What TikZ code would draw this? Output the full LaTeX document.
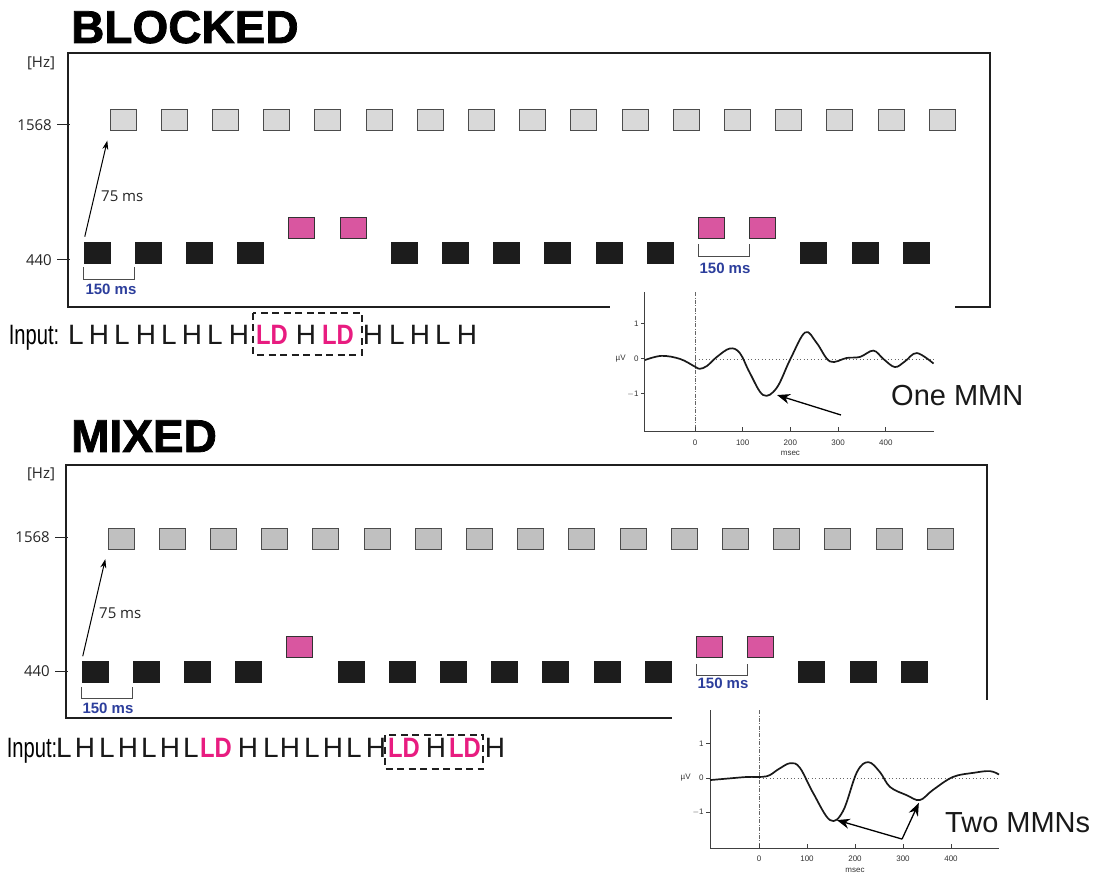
\documentclass[tikz,border=0pt]{standalone}
\usepackage{fontspec}
\usetikzlibrary{arrows.meta,positioning}
\setmainfont{Liberation Sans}
\newfontfamily\headfont[FakeBold=1.6]{Liberation Sans Bold}
\newfontfamily\narrowfont[FakeStretch=0.72]{Liberation Sans}
\newfontfamily\devfont[FakeStretch=0.85]{Liberation Sans Bold}
\newfontfamily\hzfont{Open Sans}

\definecolor{ldpink}{RGB}{232,28,128}
\definecolor{devfill}{RGB}{217,86,160}
\definecolor{hifillA}{RGB}{217,217,217}
\definecolor{hifillB}{RGB}{192,192,192}
\definecolor{lofill}{RGB}{28,28,28}
\definecolor{msblue}{RGB}{44,62,156}

\tikzset{
  tone/.style={minimum width=26pt, minimum height=21pt, inner sep=0pt, line width=0.8pt},
  hitone/.style={tone, draw=black!70, fill=hifillA},
  hitoneB/.style={tone, draw=black!70, fill=hifillB},
  lotone/.style={tone, draw=lofill, fill=lofill},
  devtone/.style={tone, draw=black!80, fill=devfill, yshift=25pt},
  frame/.style={line width=2.6pt, draw=black!88},
  hzlbl/.style={font=\hzfont\fontsize{15}{15}\selectfont, text=black!85, inner sep=0pt},
  hztick/.style={line width=1pt, draw=black!85},
  title/.style={font=\headfont\fontsize{46}{46}\selectfont, inner sep=0pt, anchor=base west},
  delay/.style={-{Stealth[length=9pt,width=6pt]}, line width=1pt, shorten <=5pt, shorten >=10pt},
  bracket/.style={line width=0.9pt, draw=black!70},
  msl/.style={font=\bfseries\fontsize{15}{15}\selectfont, text=msblue, inner sep=0pt},
  inlbl/.style={font=\narrowfont\fontsize{28}{28}\selectfont, inner sep=0pt, anchor=base},
  seq/.style={font=\fontsize{28}{28}\selectfont, text=black!90, inner sep=0pt, anchor=base},
  dev/.style={font=\devfont\fontsize{28}{28}\selectfont, text=ldpink, inner sep=0pt, anchor=base},
  dashbox/.style={line width=2.4pt, draw=black!88, dash pattern=on 7pt off 4.5pt},
  erpaxis/.style={line width=1pt, draw=black!75},
  zeroline/.style={line width=0.7pt, draw=black!60, dash pattern=on 1pt off 2.5pt},
  onsetline/.style={line width=0.6pt, draw=black!60, dash pattern=on 4pt off 1.5pt on 0.8pt off 1.5pt},
  erp/.style={line width=1.7pt, draw=black!90},
  ticklbl/.style={font=\fontsize{8}{8}\selectfont, text=black!80, inner sep=0pt},
  mmn/.style={-{Stealth[length=13pt,width=10pt]}, line width=1.3pt},
  mmnlbl/.style={text=black!90, inner sep=0pt, anchor=base west}
}

\begin{document}
\begin{tikzpicture}[x=1pt, y=-1pt]
  \useasboundingbox[fill=white] (0,0) rectangle (1098,874);

  %% ---------------- BLOCKED ----------------
  \node[title] (headA) at (71,43) {BLOCKED};
  \draw[frame] (68,53) rectangle (990,307);

  \node[hzlbl] (hzA) at (41,63) {[Hz]};
  \node[hzlbl, anchor=east] (fhiA) at (52,125) {1568};
  \node[hzlbl, anchor=east] (floA) at (52,260) {440};
  \draw[hztick] (57,125) -- (70,125);
  \draw[hztick] (57,260) -- (70,260);

  % high tones, 150 ms apart
  \foreach \k in {0,...,16}
    \node[hitone] (hA\k) at ({123+51.2*\k},120) {};
  % low tones and deviants
  \foreach \t [count=\k from 0] in {lotone,lotone,lotone,lotone,devtone,devtone,
      lotone,lotone,lotone,lotone,lotone,lotone,devtone,devtone,lotone,lotone,lotone}
    \node[\t] (lA\k) at ({97+51.2*\k},252.5) {};

  \draw[delay] (lA0.north west) -- (hA0.south west);
  \node[hzlbl, anchor=west] (dA) at (101,196) {75 ms};

  \draw[bracket] ([yshift=-4pt]lA0.south west) -- ++(0,12) -| ([yshift=-4pt]lA1.south west);
  \node[msl] (isiA) at (111,289) {150 ms};
  \draw[bracket] ([yshift=-6pt]lA12.south west) -- ++(0,12) -| ([yshift=-6pt]lA13.south west);
  \node[msl] (isiA2) at (725,268) {150 ms};

  % input sequence
  \node[inlbl] (inA) at (34,345) {Input:};
  \foreach \x/\s/\st [count=\i] in {76/L/seq,99/H/seq,122/L/seq,146/H/seq,169/L/seq,
      192/H/seq,215/L/seq,239/H/seq,272/LD/dev,306/H/seq,338/LD/dev,373/H/seq,
      397/L/seq,420/H/seq,443/L/seq,467/H/seq}
    \node[\st] (sA\i) at (\x,345) {\s};
  \draw[dashbox] (253,313) rectangle (362,355);

  % ERP inset
  \fill[white] (610,283) rectangle (955,462);
  \begin{scope}[shift={(695pt,-359pt)}, x=0.477pt, y=35pt]
    \draw[zeroline] (0,0) -- (500,0);
    \draw[onsetline] (0,1.91) -- (0,-2.06);
    \draw[erpaxis] (-105,1.91) -- (-105,-2.06) -- (500,-2.06);
    \foreach \v in {-1,0,1}
      \draw[erpaxis] (-105,\v) -- (-113,\v);
    \node[ticklbl, anchor=east] (yA1) at (-118,1) {1};
    \node[ticklbl, anchor=east] (yA0) at (-118,0) {0};
    \node[ticklbl, anchor=east] (yAm) at (-118,-1) {$-$1};
    \node[ticklbl, anchor=east] (uvA) at (-145,0) {µV};
    \foreach \t in {0,100,...,400} {
      \draw[erpaxis] (\t,-2.06) -- (\t,-1.94);
      \node[ticklbl] (tA\t) at (\t,-2.4) {\t};
    }
    \node[ticklbl] (msecA) at (200,-2.7) {msec};
    \draw[erp] plot[smooth, tension=0.6] coordinates {
      (-105,-0.03) (-70,0.09) (-31,0) (0,-0.22) (10,-0.28) (25,-0.2) (45,0.05)
      (73,0.3) (94,0.17) (115,-0.4) (143,-1.03) (171,-0.83) (200,0) (231,0.76)
      (255,0.46) (283,-0.07) (318,0.03) (346,0.06) (374,0.24) (395,0) (419,-0.23)
      (440,-0.07) (465,0.17) (500,-0.13)};
    \coordinate (tailA) at (306,-1.6);
    \coordinate (peakA) at (172,-1.03);
    \draw[mmn] (tailA) -- (peakA);
  \end{scope}
  \node[mmnlbl, font=\fontsize{29}{29}\selectfont] (oneA) at (891,406) {One MMN};

  %% ---------------- MIXED ----------------
  \node[title] (headB) at (71,452) {MIXED};
  \draw[frame] (66,465) rectangle (987,718);

  \node[hzlbl] (hzB) at (41,474) {[Hz]};
  \node[hzlbl, anchor=east] (fhiB) at (50,537) {1568};
  \node[hzlbl, anchor=east] (floB) at (50,671) {440};
  \draw[hztick] (55,537) -- (68,537);
  \draw[hztick] (55,671) -- (68,671);

  \foreach \k in {0,...,16}
    \node[hitoneB] (hB\k) at ({121+51.2*\k},538.5) {};
  \foreach \t [count=\k from 0] in {lotone,lotone,lotone,lotone,devtone,lotone,
      lotone,lotone,lotone,lotone,lotone,lotone,devtone,devtone,lotone,lotone,lotone}
    \node[\t] (lB\k) at ({95+51.2*\k},672) {};

  \draw[delay] (lB0.north west) -- (hB0.south west);
  \node[hzlbl, anchor=west] (dB) at (99,613) {75 ms};

  \draw[bracket] ([yshift=-4pt]lB0.south west) -- ++(0,12) -| ([yshift=-4pt]lB1.south west);
  \node[msl] (isiB) at (108,708) {150 ms};
  \draw[bracket] ([yshift=-6pt]lB12.south west) -- ++(0,12) -| ([yshift=-6pt]lB13.south west);
  \node[msl] (isiB2) at (723,683) {150 ms};

  \node[inlbl] (inB) at (32,757) {Input:};
  \foreach \x/\s/\st [count=\i] in {64/L/seq,85/H/seq,107/L/seq,128/H/seq,149/L/seq,
      170/H/seq,191/L/seq,216/LD/dev,248/H/seq,271/L/seq,290/H/seq,312/L/seq,
      333/H/seq,354/L/seq,376/H/seq,404/LD/dev,436/H/seq,465/LD/dev,495/H/seq}
    \node[\st] (sB\i) at (\x,757) {\s};
  \draw[dashbox] (385,735) rectangle (483,769);

  \fill[white] (672,700) rectangle (1098,874);
  \begin{scope}[shift={(759pt,-778pt)}, x=0.48pt, y=34.5pt]
    \draw[zeroline] (0,0) -- (500,0);
    \draw[onsetline] (0,1.97) -- (0,-2.03);
    \draw[erpaxis] (-102,1.97) -- (-102,-2.03) -- (500,-2.03);
    \foreach \v in {-1,0,1}
      \draw[erpaxis] (-102,\v) -- (-110,\v);
    \node[ticklbl, anchor=east] (yB1) at (-115,1) {1};
    \node[ticklbl, anchor=east] (yB0) at (-115,0) {0};
    \node[ticklbl, anchor=east] (yBm) at (-115,-1) {$-$1};
    \node[ticklbl, anchor=east] (uvB) at (-142,0) {µV};
    \foreach \t in {0,100,...,400} {
      \draw[erpaxis] (\t,-2.03) -- (\t,-1.91);
      \node[ticklbl] (tB\t) at (\t,-2.35) {\t};
    }
    \node[ticklbl] (msecB) at (200,-2.68) {msec};
    \draw[erp] plot[smooth, tension=0.6] coordinates {
      (-102,-0.06) (-60,-0.01) (-25,0.03) (16,0.05) (40,0.25) (65,0.43) (85,0.3)
      (113,-0.44) (148,-1.22) (175,-0.96) (204,0.17) (228,0.46) (252,0.17)
      (273,-0.26) (308,-0.5) (335,-0.64) (362,-0.35) (404,0.03) (447,0.15)
      (481,0.2) (500,0.1)};
    \coordinate (tailB) at (298,-1.77);
    \coordinate (peakB1) at (162,-1.22);
    \coordinate (peakB2) at (333,-0.72);
    \draw[mmn] (tailB) -- (peakB1);
    \draw[mmn] (tailB) -- (peakB2);
  \end{scope}
  \node[mmnlbl, font=\fontsize{29}{29}\selectfont] (twoB) at (945,832) {Two MMNs};
\end{tikzpicture}
\end{document}
